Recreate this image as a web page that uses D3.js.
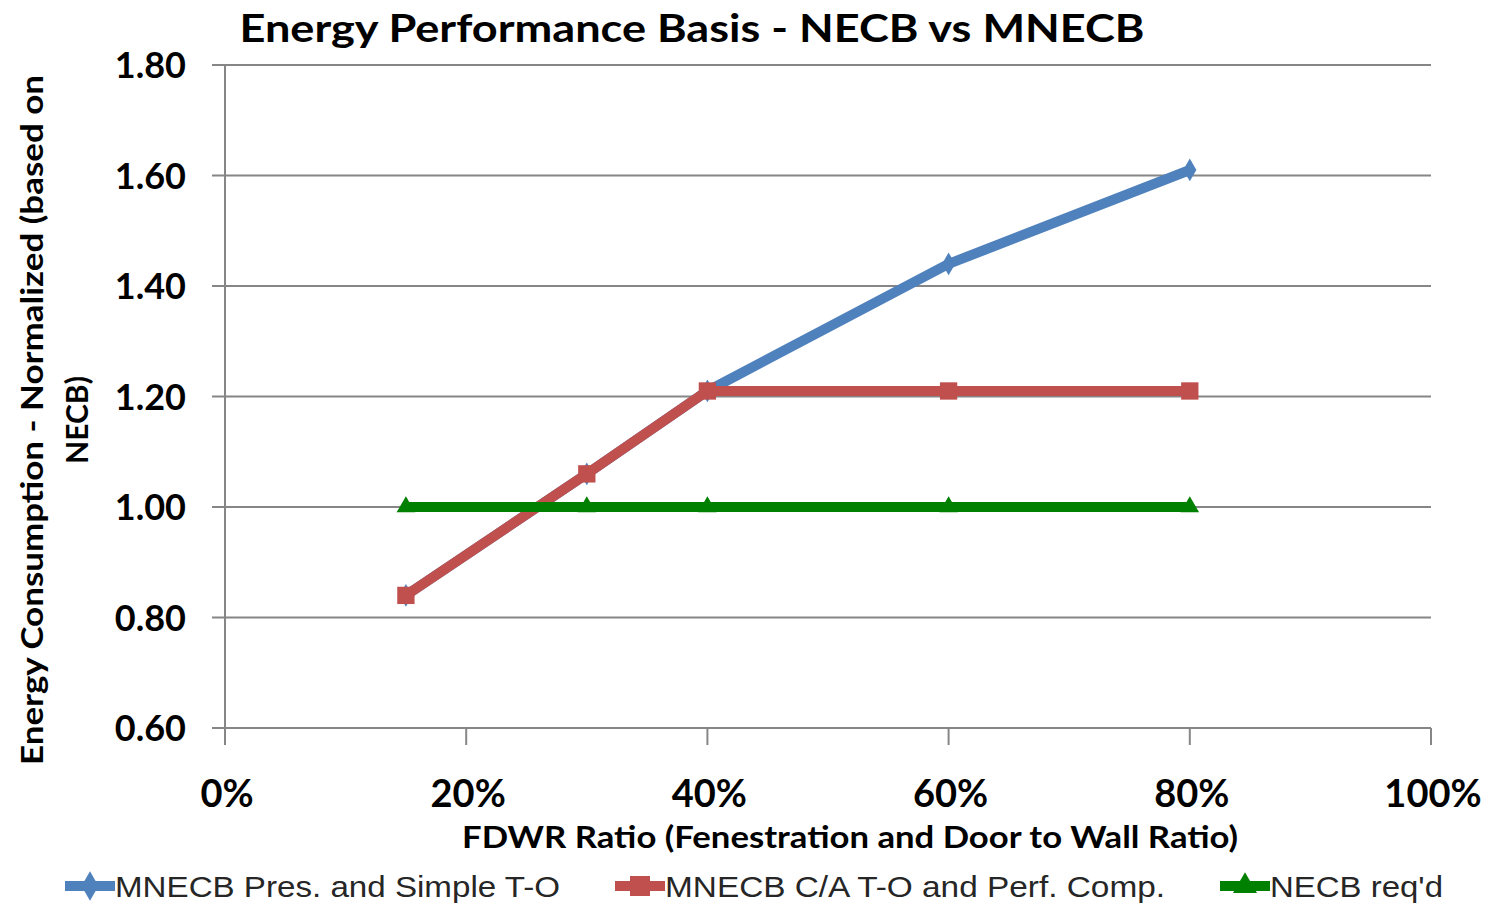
<!DOCTYPE html>
<html><head><meta charset="utf-8">
<script src="https://cdn.jsdelivr.net/npm/d3@7"></script>
<style>body{margin:0;background:#fff}</style>
</head><body>
<svg id="c" width="1488" height="905"></svg>
<script>
const xValues = [0.15, 0.30, 0.40, 0.60, 0.80];
const seriesNames = ["MNECB Pres. and Simple T-O", "MNECB C/A T-O and Perf. Comp.", "NECB req'd"];
const bluePres = [0.84, 1.06, 1.21, 1.44, 1.61];
const redCA = [0.84, 1.06, 1.21, 1.21, 1.21];
const greenNECB = [1.00, 1.00, 1.00, 1.00, 1.00];
const yTicks = [0.60, 0.80, 1.00, 1.20, 1.40, 1.60, 1.80];
const xTicks = [0, 0.2, 0.4, 0.6, 0.8, 1.0];
const colors = ["#4F81BD", "#C0504D", "#008000"];
const markers = [d3.symbolDiamond, d3.symbolSquare, d3.symbolTriangle];
const markerSizes = [150, 300, 150];

const svg = d3.select("#c");
const x = d3.scaleLinear().domain([0, 1]).range([225, 1431]);
const y = d3.scaleLinear().domain([0.6, 1.8]).range([728, 65]);
const boldFont = "Lato, 'Open Sans', sans-serif";

// gridlines
svg.append("g").selectAll("line").data(yTicks).join("line")
  .attr("x1", 212).attr("x2", x(1)).attr("y1", d => y(d)).attr("y2", d => y(d))
  .attr("stroke", "#868686").attr("stroke-width", 2);
// y axis line
svg.append("line").attr("x1", x(0)).attr("x2", x(0)).attr("y1", y(1.8)).attr("y2", 745)
  .attr("stroke", "#868686").attr("stroke-width", 2);
// x ticks
svg.append("g").selectAll("line").data(xTicks).join("line")
  .attr("x1", d => x(d)).attr("x2", d => x(d)).attr("y1", y(0.6)).attr("y2", 745)
  .attr("stroke", "#868686").attr("stroke-width", 2);

// y tick labels
svg.append("g").selectAll("text").data(yTicks).join("text")
  .attr("x", 186).attr("y", d => y(d) + 13).attr("text-anchor", "end")
  .attr("font-family", boldFont).attr("font-weight", "bold").attr("font-size", 36)
  .text(d => d.toFixed(2));
// x tick labels
svg.append("g").selectAll("text").data(xTicks).join("text")
  .attr("x", d => x(d) + 2).attr("y", 807).attr("text-anchor", "middle")
  .attr("font-family", boldFont).attr("font-weight", "bold").attr("font-size", 38)
  .text(d => d3.format(".0%")(d));

// title
svg.append("text").attr("x", 692).attr("y", 42).attr("text-anchor", "middle")
  .attr("font-family", boldFont).attr("font-weight", "bold").attr("font-size", 39)
  .attr("textLength", 905).attr("lengthAdjust", "spacingAndGlyphs")
  .text("Energy Performance Basis - NECB vs MNECB");
// x title
svg.append("text").attr("x", 850).attr("y", 848).attr("text-anchor", "middle")
  .attr("font-family", boldFont).attr("font-weight", "bold").attr("font-size", 30)
  .attr("textLength", 776).attr("lengthAdjust", "spacingAndGlyphs")
  .text("FDWR Ratio (Fenestration and Door to Wall Ratio)");
// y title
const yt = svg.append("text").attr("transform", "translate(0,420) rotate(-90)")
  .attr("text-anchor", "middle").attr("font-family", boldFont).attr("font-weight", "bold").attr("font-size", 30);
yt.append("tspan").attr("x", 0).attr("y", 43).attr("textLength", 690).attr("lengthAdjust", "spacingAndGlyphs")
  .text("Energy Consumption - Normalized (based on");
yt.append("tspan").attr("x", 0).attr("y", 88).text("NECB)");

// series
const series = [bluePres, redCA, greenNECB];
const line = d3.line().x((d, i) => x(xValues[i])).y(d => y(d));
series.forEach((vals, s) => {
  const g = svg.append("g");
  g.append("path").attr("d", line(vals)).attr("fill", "none")
    .attr("stroke", colors[s]).attr("stroke-width", 10).attr("stroke-linejoin", "round");
  g.selectAll("path.m").data(vals).join("path").attr("class", "m")
    .attr("transform", (d, i) => `translate(${x(xValues[i])},${y(d)})`)
    .attr("d", d3.symbol().type(markers[s]).size(markerSizes[s]))
    .attr("fill", colors[s]);
});

// legend
const legX = [65, 615, 1220];
const legW = [445, 500, 173];
seriesNames.forEach((name, s) => {
  const g = svg.append("g").attr("transform", `translate(${legX[s]},886)`);
  g.append("line").attr("x1", 0).attr("x2", 50).attr("stroke", colors[s]).attr("stroke-width", 10);
  g.append("path").attr("transform", "translate(25,0)").attr("d", d3.symbol().type(markers[s]).size(markerSizes[s] + 100)).attr("fill", colors[s]);
  g.append("text").attr("x", 50).attr("y", 11).attr("font-family", "'Liberation Sans', Arial, sans-serif")
    .attr("font-size", 30).attr("fill", "#262626")
    .attr("textLength", legW[s]).attr("lengthAdjust", "spacingAndGlyphs").text(name);
});
</script>
</body></html>
